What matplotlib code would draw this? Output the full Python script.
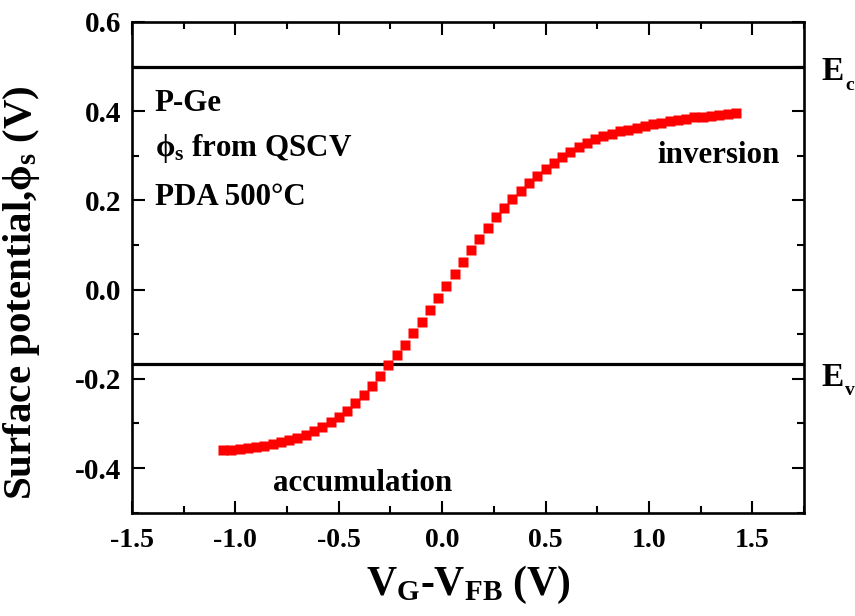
import numpy as np
import matplotlib
matplotlib.use('Agg')
import matplotlib.pyplot as plt
from matplotlib.ticker import MultipleLocator

plt.rcParams['font.family'] = ['Liberation Serif', 'DejaVu Serif']
plt.rcParams['font.weight'] = 'bold'
plt.rcParams['mathtext.fontset'] = 'custom'
plt.rcParams['mathtext.rm'] = 'Liberation Serif:bold'
plt.rcParams['mathtext.it'] = 'Liberation Serif:bold'
plt.rcParams['mathtext.bf'] = 'Liberation Serif:bold'

# gate voltage relative to flat band (V)
vg_vfb = [-1.06, -1.02, -0.98, -0.94, -0.90, -0.86, -0.82, -0.78, -0.74, -0.70,
          -0.66, -0.62, -0.58, -0.54, -0.50, -0.46, -0.42, -0.38, -0.34, -0.30,
          -0.26, -0.22, -0.18, -0.14, -0.10, -0.06, -0.02, 0.02, 0.06, 0.10,
          0.14, 0.18, 0.22, 0.26, 0.30, 0.34, 0.38, 0.42, 0.46, 0.50,
          0.54, 0.58, 0.62, 0.66, 0.70, 0.74, 0.78, 0.82, 0.86, 0.90,
          0.94, 0.98, 1.02, 1.06, 1.10, 1.14, 1.18, 1.22, 1.26, 1.30,
          1.34, 1.38, 1.42]
# surface potential from QSCV (V)
phi_s = [-0.360, -0.359, -0.357, -0.355, -0.353, -0.350, -0.347, -0.342, -0.338, -0.332,
         -0.325, -0.317, -0.308, -0.297, -0.285, -0.271, -0.255, -0.236, -0.215, -0.193,
         -0.170, -0.147, -0.123, -0.098, -0.072, -0.046, -0.018, 0.009, 0.036, 0.063,
         0.089, 0.114, 0.139, 0.162, 0.184, 0.204, 0.222, 0.239, 0.255, 0.270,
         0.284, 0.297, 0.309, 0.320, 0.329, 0.337, 0.344, 0.350, 0.355, 0.359,
         0.363, 0.367, 0.371, 0.374, 0.377, 0.380, 0.383, 0.386, 0.388, 0.390,
         0.392, 0.394, 0.396]

Ec = 0.5
Ev = -0.167

fig = plt.figure(figsize=(8.55, 6.16), dpi=100)
ax = fig.add_axes([0.1544, 0.1677, 0.7860, 0.7966])

ax.axhline(Ec, color='black', lw=2.3, zorder=1)
ax.axhline(Ev, color='black', lw=2.3, zorder=1)
ax.plot(vg_vfb, phi_s, 's', color='red', ms=6.5, mec='none', zorder=3)

ax.set_xlim(-1.5, 1.75)
ax.set_ylim(-0.5, 0.6)
ax.xaxis.set_major_locator(MultipleLocator(0.5))
ax.xaxis.set_minor_locator(MultipleLocator(0.25))
ax.yaxis.set_major_locator(MultipleLocator(0.2))
ax.yaxis.set_minor_locator(MultipleLocator(0.1))
ax.xaxis.set_major_formatter(plt.FormatStrFormatter('%.1f'))
ax.yaxis.set_major_formatter(plt.FormatStrFormatter('%.1f'))
ax.tick_params(which='both', direction='in', top=True, right=True, width=1.5, pad=8)
ax.tick_params(axis='x', labelsize=20, pad=11)
ax.tick_params(axis='y', labelsize=21)
ax.tick_params(which='major', length=9)
ax.tick_params(which='minor', length=5)
for sp in ax.spines.values():
    sp.set_linewidth(1.9)
for lbl in ax.get_xticklabels() + ax.get_yticklabels():
    lbl.set_fontweight('bold')

ax.set_xlabel(r'$\mathrm{V_G}$-$\mathrm{V_{FB}}$ (V)', fontsize=30, fontweight='bold', labelpad=8)
ax.set_ylabel(r'Surface potential,$\phi_\mathrm{s}$ (V)', fontsize=29.5, fontweight='bold')
ax.yaxis.set_label_coords(-0.134, 0.448)

ax.text(-1.39, 0.417, 'P-Ge', fontsize=22.3, fontweight='bold', va='center')
ax.text(-1.39, 0.316, r'$\phi_\mathrm{s}$ from QSCV', fontsize=22.3, fontweight='bold', va='center')
ax.text(-1.39, 0.206, 'PDA 500°C', fontsize=22.3, fontweight='bold', va='center')
ax.text(1.04, 0.300, 'inversion', fontsize=22.3, fontweight='bold', va='center')
ax.text(-0.82, -0.435, 'accumulation', fontsize=22.3, fontweight='bold', va='center')

# band edge labels with small subscripts
for lvl, sub, dy in [(Ec, 'c', -0.012), (Ev, 'v', -0.030)]:
    ax.text(1.832, lvl + dy, 'E', fontsize=24, fontweight='bold', va='center')
    ax.text(1.948, lvl + dy - 0.03, sub, fontsize=14, fontweight='bold', va='center')

fig.savefig('out.png', dpi=100)
